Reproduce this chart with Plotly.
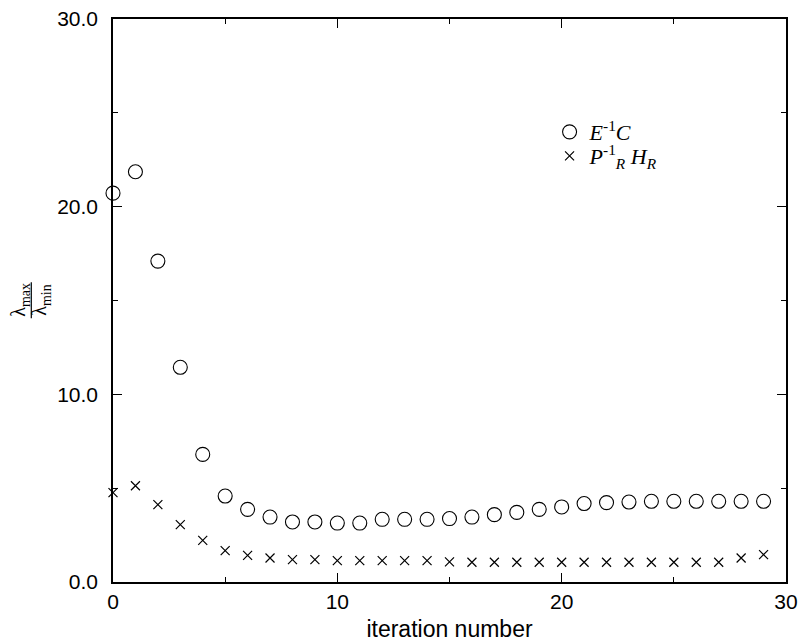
import plotly.graph_objects as go

iterations = list(range(30))
cond_EC = [20.72, 21.86, 17.10, 11.44, 6.80, 4.58, 3.87, 3.46, 3.20, 3.20,
           3.14, 3.14, 3.34, 3.34, 3.34, 3.38, 3.46, 3.59, 3.71, 3.87,
           4.00, 4.18, 4.23, 4.26, 4.30, 4.30, 4.30, 4.30, 4.30, 4.30]
cond_PH = [4.76, 5.13, 4.12, 3.06, 2.22, 1.67, 1.42, 1.28, 1.19, 1.19,
           1.14, 1.14, 1.14, 1.14, 1.14, 1.07, 1.05, 1.05, 1.05, 1.05,
           1.05, 1.05, 1.05, 1.05, 1.05, 1.05, 1.05, 1.05, 1.28, 1.46]

name_EC = "<i>E</i><sup>-1</sup><i>C</i>"
name_PH = "<i>P</i><sup>-1</sup><sub><i>R</i></sub> <i>H</i><sub><i>R</i></sub>"

fig = go.Figure()
fig.add_trace(go.Scatter(
    x=iterations, y=cond_EC, mode="markers", name=name_EC, legend="legend",
    marker=dict(symbol="circle-open", size=14, color="black", line=dict(width=1.1)),
    cliponaxis=False))
fig.add_trace(go.Scatter(
    x=iterations, y=cond_PH, mode="markers", name=name_PH, legend="legend2",
    marker=dict(symbol="x-thin-open", size=9, color="black", line=dict(width=1.2)),
    cliponaxis=False))

axis_common = dict(
    showgrid=False, zeroline=False, showline=True, linecolor="black", linewidth=1.5,
    ticks="inside", ticklen=9, tickwidth=1.2, tickcolor="black", mirror="allticks",
    automargin=False,
    tickfont=dict(family="Liberation Sans, Arial, sans-serif", size=21, color="black"),
    minor=dict(dtick=5, ticks="inside", ticklen=5, tickwidth=1, tickcolor="black"),
)

fig.update_xaxes(range=[0, 30], tickvals=[0, 10, 20, 30], ticktext=["0", "10", "20", "30"],
                 title=dict(text="iteration number", standoff=25,
                            font=dict(family="Liberation Sans, Arial, sans-serif", size=23, color="black")),
                 **axis_common)
fig.update_yaxes(range=[0, 30], tickvals=[0, 10, 20, 30], tickformat=".1f",
                 ticklabelstandoff=9, **axis_common)

lam_font = dict(family="Liberation Serif, serif", size=20, color="black")
fig.add_annotation(xref="paper", yref="paper", x=-0.1388, y=0.5006, textangle=-90,
                   text="λ<sub>max</sub>", showarrow=False,
                   xanchor="center", yanchor="middle", font=lam_font)
fig.add_annotation(xref="paper", yref="paper", x=-0.1075, y=0.5006, textangle=-90,
                   text="λ<sub>min</sub>", showarrow=False,
                   xanchor="center", yanchor="middle", font=lam_font)
fig.add_shape(type="line", xref="paper", yref="paper", x0=-0.1214, x1=-0.1214,
              y0=0.4686, y1=0.5326, line=dict(color="black", width=1.2))

legend_style = dict(xanchor="left", yanchor="top", bgcolor="rgba(0,0,0,0)",
                    font=dict(family="Liberation Serif, serif", size=22, color="black"),
                    itemwidth=30)

fig.update_layout(
    width=800, height=642, plot_bgcolor="white", paper_bgcolor="white",
    margin=dict(l=113, r=14, t=19, b=60, autoexpand=False),
    showlegend=True,
    legend=dict(x=0.6487, y=0.8365, **legend_style),
    legend2=dict(x=0.6487, y=0.7938, **legend_style),
)

fig.write_html("out.html", post_script="document.body.style.margin='0';",
               config={"displayModeBar": False})
